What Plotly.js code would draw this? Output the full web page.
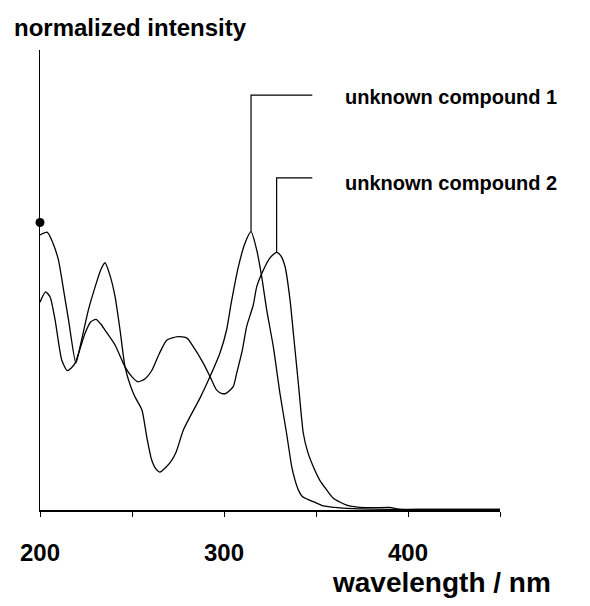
<!DOCTYPE html>
<html>
<head>
<meta charset="utf-8">
<script src="https://cdn.plot.ly/plotly-3.0.1.min.js"></script>
<style>html,body{margin:0;padding:0;background:#fff}#chart{width:590px;height:606px}</style>
</head>
<body>
<div id="chart"></div>
<script>
// Data
var wl1 = [200,204,207,210,213,215.5,219.5,222,226.3,230,233,235.3,238,240.8,243.5,246.2,249,251.6,255.4,258,260.7,263,265.2,268.8,271,274,277.9,282,287,292.4,297.8,301.4,304,307.8,311.4,314.7,317.8,320.5,323.2,326.8,330.4,334,336.8,338.6,340.4,342.7,345.5,348.5,354,360,366.7,380,400,425,450];
var int1 = [0.957,0.966,0.929,0.870,0.758,0.661,0.511,0.574,0.696,0.777,0.835,0.860,0.817,0.742,0.626,0.498,0.435,0.394,0.348,0.255,0.174,0.143,0.132,0.151,0.167,0.202,0.278,0.330,0.390,0.464,0.546,0.626,0.723,0.846,0.928,0.968,0.904,0.811,0.696,0.568,0.406,0.267,0.151,0.104,0.070,0.046,0.037,0.029,0.014,0.009,0.006,0.003,0.002,0.002,0.002];
var wl2 = [200,203,205.5,208.2,211.8,214.8,217,219,224.5,227.5,230.4,233,235.3,240.8,246.2,250,253.3,257,260.9,265,269,275,279.9,283.3,288.8,292.4,296,299,301.1,305,306.9,310,312.3,315.9,317.8,321.4,325,328.6,331,333.2,335.9,337.7,340.4,343.1,345.5,348.5,352,355.8,359.4,366.7,373.9,382,390,395.7,410,450];
var int2 = [0.723,0.759,0.741,0.661,0.522,0.485,0.494,0.510,0.615,0.654,0.663,0.647,0.626,0.574,0.498,0.463,0.446,0.456,0.487,0.546,0.591,0.603,0.598,0.568,0.510,0.464,0.417,0.405,0.406,0.429,0.476,0.557,0.638,0.713,0.777,0.835,0.877,0.896,0.883,0.846,0.730,0.615,0.441,0.267,0.202,0.151,0.104,0.070,0.041,0.017,0.009,0.008,0.009,0.002,0.002,0.002];
var names = ["unknown compound 1","unknown compound 2"];
var xTicks = [200,250,300,350,400,450];
var xTickText = ["200","","300","","400",""];
var refX = [200], refY = [1.0];

var YMAX = 1.6;
// main (longest-wavelength) absorption peak of each curve
function peak(xs, ys, from){var k=-1;for(var i=0;i<ys.length;i++){if(xs[i]>=from && (k<0 || ys[i]>ys[k]))k=i;}return [xs[k],ys[k]];}
var p1 = peak(wl1,int1,280), p2 = peak(wl2,int2,280);
var lineY = [0.902, 0.722];
var textY = [0.898, 0.711];
var lineEndX = 348;
var FONT = "Liberation Sans, Arial, sans-serif";

var lineStyle = {color:"#000", width:1.3, shape:"spline", smoothing:0.6};
var data = [
  {x:wl1, y:int1, mode:"lines", line:lineStyle, name:names[0], hoverinfo:"x+y"},
  {x:wl2, y:int2, mode:"lines", line:lineStyle, name:names[1], hoverinfo:"x+y"},
  {x:refX, y:refY, mode:"markers", marker:{color:"#000", size:9}, cliponaxis:false, hoverinfo:"skip"}
];

var shapes = [
  {type:"path", xref:"x", yref:"paper", path:"M "+p1[0]+" "+(p1[1]/YMAX)+" L "+p1[0]+" "+lineY[0]+" L "+lineEndX+" "+lineY[0], line:{color:"#000",width:1.2}},
  {type:"path", xref:"x", yref:"paper", path:"M "+p2[0]+" "+(p2[1]/YMAX)+" L "+p2[0]+" "+lineY[1]+" L "+lineEndX+" "+lineY[1], line:{color:"#000",width:1.2}}
];

var annotations = [
  {xref:"paper", yref:"paper", x:0.659, y:textY[0], xanchor:"left", yanchor:"middle", text:names[0], showarrow:false, font:{family:FONT, size:20, color:"#000", weight:"bold"}},
  {xref:"paper", yref:"paper", x:0.659, y:textY[1], xanchor:"left", yanchor:"middle", text:names[1], showarrow:false, font:{family:FONT, size:20, color:"#000", weight:"bold"}},
  {xref:"paper", yref:"paper", x:-0.061, y:1.048, xanchor:"left", yanchor:"middle", text:"normalized intensity", showarrow:false, font:{family:FONT, size:24, color:"#000", weight:"bold"}},
  {xref:"paper", yref:"paper", x:1.115, y:-0.157, xanchor:"right", yanchor:"middle", text:"wavelength / nm", showarrow:false, font:{family:FONT, size:28, color:"#000", weight:"bold"}}
];

var layout = {
  width:590, height:606,
  margin:{l:40, r:90, t:50, b:96, pad:0},
  paper_bgcolor:"#fff", plot_bgcolor:"#fff",
  showlegend:false,
  xaxis:{range:[200,450], tickvals:xTicks, ticktext:xTickText, ticks:"outside", ticklen:5, tickwidth:1, tickcolor:"#000",
         showline:true, linecolor:"#000", linewidth:1.5, showgrid:false, zeroline:false,
         ticklabelstandoff:16, tickfont:{family:FONT, size:24, color:"#000", weight:"bold"}},
  yaxis:{range:[0,YMAX], showticklabels:false, ticks:"", showline:true, linecolor:"#000", linewidth:1.5, showgrid:false, zeroline:false},
  shapes:shapes,
  annotations:annotations
};
Plotly.newPlot("chart", data, layout, {displayModeBar:false, staticPlot:true});
</script>
</body>
</html>
